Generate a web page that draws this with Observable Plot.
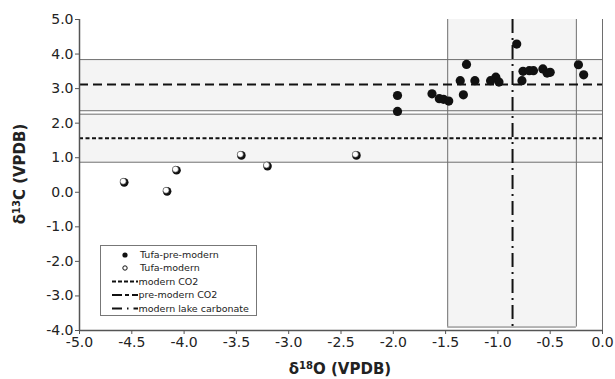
<!DOCTYPE html>
<html>
<head>
<meta charset="utf-8">
<script src="https://cdn.jsdelivr.net/npm/d3@7"></script>
<script src="https://cdn.jsdelivr.net/npm/@observablehq/plot@0.6"></script>
<style>
  html, body { margin: 0; padding: 0; background: #fff; }
  #chart svg { display: block; }
</style>
</head>
<body>
<div id="chart"></div>
<script>
// --- data ---
const preModernX = [-1.96, -1.96, -1.63, -1.56, -1.52, -1.47, -1.30, -1.36, -1.33, -1.22, -1.02, -0.99, -1.07, -0.82, -0.76, -0.77, -0.70, -0.66, -0.57, -0.53, -0.50, -0.23, -0.18];
const preModernY = [2.80, 2.34, 2.85, 2.71, 2.69, 2.64, 3.70, 3.23, 2.82, 3.23, 3.33, 3.19, 3.23, 4.29, 3.50, 3.23, 3.52, 3.52, 3.57, 3.45, 3.47, 3.69, 3.40];
const modernX = [-4.58, -4.17, -4.08, -3.46, -3.21, -2.36];
const modernY = [0.31, 0.05, 0.66, 1.09, 0.78, 1.09];

const co2BandLow = [0.87, 2.26];   // modern CO2 range
const co2BandHigh = [2.36, 3.84];  // pre-modern CO2 range
const modernCO2 = 1.56;
const preModernCO2 = 3.12;
const lakeBandX = [-1.48, -0.25];
const lakeBandY = [-3.9, 5.0];
const lakeCarbonate = -0.86;

const xTicks = [-5, -4.5, -4, -3.5, -3, -2.5, -2, -1.5, -1, -0.5, 0];
const yTicks = [-4, -3, -2, -1, 0, 1, 2, 3, 4, 5];
const legendLabels = ["Tufa-pre-modern", "Tufa-modern", "modern CO2", "pre-modern CO2", "modern lake carbonate"];

// --- derived tables ---
const pre = preModernX.map((x, i) => ({x, y: preModernY[i]}));
const mod = modernX.map((x, i) => ({x, y: modernY[i]}));
const hBands = [{y1: co2BandLow[0], y2: co2BandLow[1]}, {y1: co2BandHigh[0], y2: co2BandHigh[1]}];
const vBand = [{x1: lakeBandX[0], x2: lakeBandX[1], y1: lakeBandY[0], y2: lakeBandY[1]}];

const FONT = "DejaVu Sans, Verdana, sans-serif";
const fill = "#f4f4f4";
const edge = "#6e6e6e";

const chart = Plot.plot({
  width: 615,
  height: 379,
  marginLeft: 79,
  marginRight: 13,
  marginTop: 19,
  marginBottom: 49,
  style: {fontFamily: FONT, fontSize: "14px", color: "#222", background: "#fff"},
  x: {domain: [-5, 0]},
  y: {domain: [-4, 5]},
  marks: [
    Plot.rect(hBands, {y1: "y1", y2: "y2", fill}),
    Plot.rect(vBand, {x1: "x1", x2: "x2", y1: "y1", y2: "y2", fill}),
    Plot.ruleY(hBands.flatMap(d => [d.y1, d.y2]), {stroke: edge, strokeWidth: 1}),
    Plot.ruleX(vBand.flatMap(d => [d.x1, d.x2]), {y1: vBand[0].y1, y2: vBand[0].y2, stroke: edge, strokeWidth: 1}),
    Plot.ruleY([vBand[0].y1], {x1: vBand[0].x1, x2: vBand[0].x2, stroke: edge, strokeWidth: 1}),
    Plot.ruleY([preModernCO2], {stroke: "#111", strokeWidth: 2, strokeDasharray: "9,5"}),
    Plot.ruleY([modernCO2], {stroke: "#111", strokeWidth: 2, strokeDasharray: "4,2.5"}),
    Plot.ruleX([lakeCarbonate], {stroke: "#111", strokeWidth: 2, strokeDasharray: "14,5,2,5"}),
    Plot.ruleX([0], {stroke: edge, strokeWidth: 1}),
    Plot.ruleX([-5], {stroke: "#555", strokeWidth: 1.5}),
    Plot.ruleY([-4], {stroke: "#555", strokeWidth: 1.5}),
    Plot.axisX({ticks: xTicks, tickFormat: d => d.toFixed(1), tickSize: 4, tickPadding: 3, label: null, fontSize: 14, stroke: "#555"}),
    Plot.axisY({ticks: yTicks, tickFormat: d => d.toFixed(1), tickSize: 4, tickPadding: 2, label: null, fontSize: 14, stroke: "#555"}),
    Plot.dot(mod, {x: "x", y: "y", r: 4.3, fill: "#111", dx: 0.8, dy: 0.8}),
    Plot.dot(mod, {x: "x", y: "y", r: 3.0, fill: "#fff", stroke: "#444", strokeWidth: 0.6, dx: -0.3, dy: -0.3}),
    Plot.dot(pre, {x: "x", y: "y", r: 4.6, fill: "#111"})
  ]
});

const svg = d3.select(chart);

// axis titles
const yt = svg.append("text")
  .attr("transform", "translate(25,174) rotate(-90)")
  .attr("text-anchor", "middle")
  .attr("font-family", FONT).attr("font-weight", "bold").attr("font-size", 15).attr("fill", "#222");
yt.append("tspan").text("δ");
yt.append("tspan").attr("font-size", 10).attr("dy", -5).text("13");
yt.append("tspan").attr("dy", 5).text("C (VPDB)");

const xt = svg.append("text")
  .attr("x", 340).attr("y", 374)
  .attr("text-anchor", "middle")
  .attr("font-family", FONT).attr("font-weight", "bold").attr("font-size", 15).attr("fill", "#222");
xt.append("tspan").text("δ");
xt.append("tspan").attr("font-size", 10).attr("dy", -5).text("18");
xt.append("tspan").attr("dy", 5).text("O (VPDB)");

// legend
const lg = svg.append("g").attr("font-family", FONT).attr("font-size", 9.5).attr("fill", "#222").attr("text-anchor", "start");
lg.append("rect").attr("x", 100.5).attr("y", 245.5).attr("width", 156).attr("height", 70)
  .attr("fill", "#fff").attr("stroke", "#777").attr("stroke-width", 1);
const rows = [255, 268, 281.5, 295, 308.5];
lg.append("circle").attr("cx", 125).attr("cy", rows[0]).attr("r", 2.6).attr("fill", "#111");
lg.append("circle").attr("cx", 125).attr("cy", rows[1]).attr("r", 2.2).attr("fill", "#fff").attr("stroke", "#111").attr("stroke-width", 1);
const dashes = ["4,2", "10,3,4,3", "10,5,1.5,5"];
[2, 3, 4].forEach((k, i) => {
  lg.append("line").attr("x1", 112).attr("x2", 138).attr("y1", rows[k]).attr("y2", rows[k])
    .attr("stroke", "#111").attr("stroke-width", 1.8).attr("stroke-dasharray", dashes[i]);
});
legendLabels.forEach((t, i) => {
  lg.append("text").attr("x", i < 2 ? 140 : 138.5).attr("y", rows[i] + 3.3).attr("text-anchor", "start").text(t);
});

document.getElementById("chart").appendChild(chart);
</script>
</body>
</html>
